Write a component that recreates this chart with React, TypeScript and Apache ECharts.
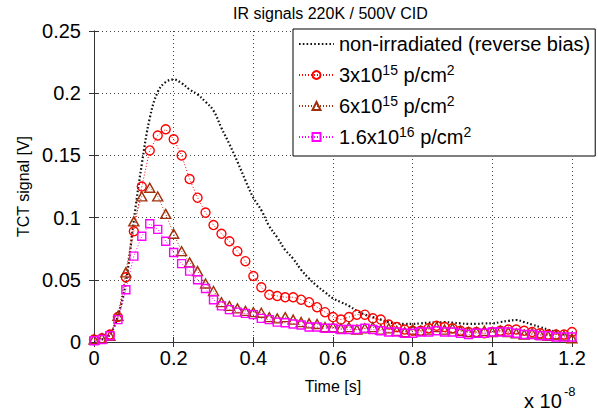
import React, { useEffect, useRef } from 'react';
import * as echarts from 'echarts';

const FONT = '"Liberation Sans", Arial, Helvetica, sans-serif';

// time axis in units of 1e-8 s, sampled every 0.02
const sampleCount = 61;
const time: number[] = Array.from({ length: sampleCount }, (_, i) => Math.round(i * 2) / 100);

const xTicks = ['0', '0.2', '0.4', '0.6', '0.8', '1', '1.2'];
const yTicks = ['0', '0.05', '0.1', '0.15', '0.2', '0.25'];

const seriesNames = [
  'non-irradiated (reverse bias)',
  '3x10^15 p/cm^2',
  '6x10^15 p/cm^2',
  '1.6x10^16 p/cm^2',
];

const legendLabels: Record<string, string> = {
  'non-irradiated (reverse bias)': 'non-irradiated (reverse bias)',
  '3x10^15 p/cm^2': '3x10{s|15} p/cm{s|2}',
  '6x10^15 p/cm^2': '6x10{s|15} p/cm{s|2}',
  '1.6x10^16 p/cm^2': '1.6x10{s|16} p/cm{s|2}',
};

const nonIrradiated = [0.001, 0.002, 0.006, 0.021, 0.048, 0.098, 0.143, 0.180, 0.201, 0.209,
  0.211, 0.208, 0.203, 0.199, 0.193, 0.186, 0.172, 0.159, 0.145, 0.130,
  0.116, 0.106, 0.093, 0.084, 0.074, 0.067, 0.058, 0.051, 0.045, 0.040,
  0.035, 0.032, 0.029, 0.025, 0.022, 0.020, 0.018, 0.016, 0.015, 0.0145,
  0.0145, 0.015, 0.0155, 0.0155, 0.016, 0.0155, 0.015, 0.0145, 0.0145, 0.015,
  0.015, 0.016, 0.017, 0.0177, 0.016, 0.014, 0.012, 0.010, 0.008, 0.006, 0.005];

const fluence3e15 = [0.002, 0.003, 0.006, 0.020, 0.052, 0.089, 0.125, 0.154, 0.166, 0.171,
  0.163, 0.150, 0.131, 0.116, 0.104, 0.094, 0.087, 0.081, 0.073, 0.065,
  0.053, 0.044, 0.038, 0.037, 0.036, 0.036, 0.034, 0.032, 0.028, 0.024,
  0.020, 0.018, 0.020, 0.022, 0.022, 0.019, 0.018, 0.014, 0.012, 0.010,
  0.009, 0.009, 0.011, 0.013, 0.012, 0.011, 0.009, 0.008, 0.008, 0.007,
  0.008, 0.009, 0.010, 0.010, 0.009, 0.008, 0.007, 0.006, 0.006, 0.006, 0.008];

const fluence6e15 = [0.002, 0.003, 0.005, 0.021, 0.056, 0.097, 0.117, 0.124, 0.117, 0.103,
  0.087, 0.073, 0.064, 0.057, 0.047, 0.041, 0.032, 0.029, 0.027, 0.025,
  0.024, 0.0235, 0.020, 0.019, 0.020, 0.018, 0.016, 0.015, 0.0145, 0.012,
  0.012, 0.011, 0.012, 0.010, 0.011, 0.012, 0.010, 0.011, 0.009, 0.008,
  0.010, 0.009, 0.010, 0.012, 0.010, 0.011, 0.009, 0.008, 0.008, 0.009,
  0.008, 0.009, 0.008, 0.007, 0.006, 0.007, 0.006, 0.005, 0.006, 0.005, 0.003];

const fluence16e15 = [0.001, 0.002, 0.005, 0.018, 0.042, 0.069, 0.085, 0.095, 0.0905, 0.081,
  0.072, 0.063, 0.057, 0.050, 0.043, 0.034, 0.029, 0.026, 0.024, 0.023,
  0.022, 0.019, 0.018, 0.016, 0.0155, 0.0145, 0.0137, 0.012, 0.012, 0.011,
  0.011, 0.010, 0.010, 0.010, 0.011, 0.010, 0.009, 0.008, 0.008, 0.007,
  0.007, 0.008, 0.008, 0.009, 0.008, 0.008, 0.007, 0.006, 0.007, 0.007,
  0.008, 0.008, 0.008, 0.007, 0.006, 0.006, 0.005, 0.005, 0.004, 0.004, 0.004];

const pair = (ys: number[]) => ys.map((y, i) => [time[i], y]);

const fmtX = (v: number) => {
  const idx = Math.round(v / 0.2);
  return xTicks[idx] ?? '';
};
const fmtY = (v: number) => {
  const idx = Math.round(v / 0.05);
  return yTicks[idx] ?? '';
};

const hollowSeries = (name: string, ys: number[], color: string, symbol: string, size: number | number[]) => ({
  name,
  type: 'line',
  data: pair(ys),
  symbol,
  symbolSize: size,
  showSymbol: true,
  lineStyle: { color, width: 1, type: [1, 2] },
  itemStyle: { color: 'rgba(255,255,255,0)', borderColor: color, borderWidth: 1.4 },
  emphasis: { disabled: true },
  z: 3,
});

export default function App() {
  const ref = useRef<HTMLDivElement>(null);
  useEffect(() => {
    const chart = echarts.init(ref.current!, null, { renderer: 'svg' });
    const axisLine = { show: true, lineStyle: { color: '#333', width: 1 } };
    const axisTick = { show: true, inside: true, length: 5, lineStyle: { color: '#333' } };
    const option: any = {
      animation: false,
      backgroundColor: '#fff',
      textStyle: { fontFamily: FONT },
      title: {
        text: 'IR signals 220K / 500V CID',
        left: 233,
        top: 5,
        padding: 0,
        textStyle: { fontFamily: FONT, fontSize: 16, fontWeight: 'normal', color: '#000' },
      },
      grid: { left: 94, right: 26, top: 31, bottom: 73, outerBoundsMode: 'none' },
      legend: {
        orient: 'vertical',
        left: 293,
        top: 29,
        data: [
          {
            name: seriesNames[0],
            itemStyle: { color: 'rgba(0,0,0,0)', borderColor: 'rgba(0,0,0,0)', borderWidth: 0 },
          },
          seriesNames[1],
          seriesNames[2],
          seriesNames[3],
        ],
        backgroundColor: '#fff',
        borderColor: '#000',
        borderWidth: 1,
        borderRadius: 0,
        padding: [3, 5, 7, 5],
        itemWidth: 35,
        itemHeight: 10,
        itemGap: 7,
        selectedMode: false,
        formatter: (name: string) => legendLabels[name] ?? name,
        textStyle: {
          fontFamily: FONT,
          fontSize: 20,
          lineHeight: 24,
          color: '#000',
          rich: {
            s: { fontFamily: FONT, fontSize: 14, lineHeight: 14, verticalAlign: 'top', color: '#000' },
          },
        },
      },
      xAxis: [
        {
          type: 'value',
          min: 0,
          max: 1.2,
          interval: 0.2,
          name: 'Time [s]',
          nameLocation: 'middle',
          nameGap: 36,
          nameTextStyle: { fontFamily: FONT, fontSize: 16, color: '#000' },
          axisLine,
          axisTick,
          axisLabel: { formatter: fmtX, fontFamily: FONT, fontSize: 20, color: '#000', margin: 6 },
          splitLine: { show: true, lineStyle: { color: '#444', width: 1, type: [1, 3] } },
        },
        {
          type: 'value',
          position: 'top',
          min: 0,
          max: 1.2,
          interval: 0.2,
          axisLine,
          axisTick,
          axisLabel: { show: false },
          splitLine: { show: false },
        },
      ],
      yAxis: [
        {
          type: 'value',
          min: 0,
          max: 0.25,
          interval: 0.05,
          name: 'TCT signal [V]',
          nameLocation: 'middle',
          nameGap: 62,
          nameTextStyle: { fontFamily: FONT, fontSize: 16, color: '#000' },
          axisLine,
          axisTick,
          axisLabel: { formatter: fmtY, fontFamily: FONT, fontSize: 20, color: '#000', margin: 13 },
          splitLine: { show: true, lineStyle: { color: '#444', width: 1, type: [1, 3] } },
        },
        {
          type: 'value',
          position: 'right',
          min: 0,
          max: 0.25,
          interval: 0.05,
          axisLine,
          axisTick,
          axisLabel: { show: false },
          splitLine: { show: false },
        },
      ],
      series: [
        {
          name: seriesNames[0],
          type: 'line',
          data: pair(nonIrradiated),
          symbol: 'none',
          smooth: 0.4,
          lineStyle: { color: '#111', width: 2.2, type: [1.6, 2.2] },
          itemStyle: { color: '#111' },
          emphasis: { disabled: true },
          z: 2,
        },
        hollowSeries(seriesNames[1], fluence3e15, '#ff0000', 'circle', 9),
        hollowSeries(seriesNames[2], fluence6e15, '#a0300a', 'triangle', [10, 9]),
        hollowSeries(seriesNames[3], fluence16e15, '#ff00ff', 'rect', 8),
      ],
      graphic: [
        {
          type: 'text',
          x: 524,
          y: 401,
          style: { text: 'x 10', fontFamily: FONT, fontSize: 20, fill: '#000', verticalAlign: 'middle' },
        },
        {
          type: 'text',
          x: 564,
          y: 391,
          style: { text: '-8', fontFamily: FONT, fontSize: 13, fill: '#000', verticalAlign: 'middle' },
        },
      ],
    };
    chart.setOption(option);
    return () => chart.dispose();
  }, []);
  return (
    <div
      ref={ref}
      style={{ position: 'fixed', left: 0, top: 0, width: 598, height: 415, background: '#fff' }}
    />
  );
}
